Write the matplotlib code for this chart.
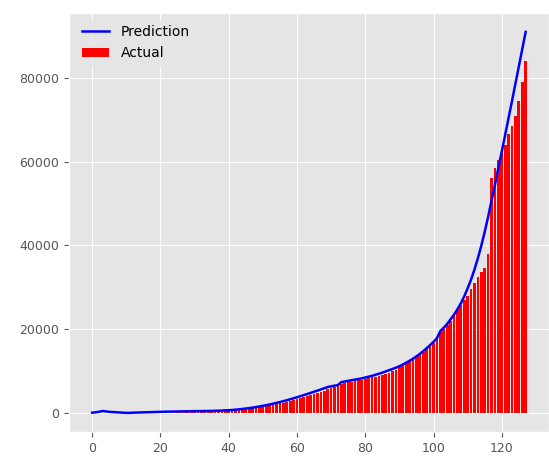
import matplotlib
matplotlib.use("Agg")
import matplotlib.pyplot as plt

plt.style.use("ggplot")

days = list(range(128))

actual = [0, 1, 1, 2, 3, 3, 3, 3, 3, 3,
          3, 3, 3, 3, 3, 3, 3, 5, 5, 6,
          10, 15, 20, 30, 40, 50, 60, 70, 80, 100,
          120, 140, 170, 200, 230, 260, 300, 340, 380, 430,
          480, 540, 600, 680, 760, 850, 950, 1050, 1180, 1300,
          1430, 1570, 1720, 1880, 2050, 2230, 2420, 2620, 2830, 3050,
          3280, 3500, 3740, 3980, 4230, 4480, 4740, 5000, 5270, 5540,
          5820, 6100, 6380, 6950, 7100, 7250, 7400, 7560, 7720, 7880,
          8050, 8230, 8420, 8620, 8830, 9060, 9300, 9560, 9840, 10140,
          11000, 11450, 11900, 12350, 12800, 13300, 13900, 14500, 15200, 15900,
          16600, 17500, 19300, 20000, 20900, 22000, 23200, 24500, 25800, 27000,
          28000, 29500, 31000, 32500, 33500, 34500, 38000, 56000, 58500, 60500,
          62000, 64000, 66500, 68500, 71000, 74500, 79000, 84000]

prediction = [0, 100, 200, 400, 300, 200, 150, 100, 50, 0,
              -50, -50, 0, 20, 50, 80, 100, 130, 150, 180,
              200, 220, 240, 260, 280, 300, 310, 320, 330, 340,
              350, 360, 370, 380, 400, 420, 440, 470, 500, 540,
              580, 640, 710, 790, 880, 980, 1090, 1210, 1340, 1480,
              1630, 1790, 1960, 2140, 2330, 2530, 2740, 2960, 3190, 3430,
              3680, 3930, 4190, 4450, 4720, 4990, 5270, 5550, 5840, 6130,
              6300, 6450, 6600, 7300, 7450, 7600, 7750, 7900, 8050, 8200,
              8400, 8600, 8800, 9050, 9300, 9550, 9850, 10150, 10450, 10750,
              11100, 11500, 11950, 12400, 12900, 13450, 14050, 14700, 15400, 16150,
              16900, 17800, 19500, 20300, 21200, 22300, 23400, 24700, 26100, 27800,
              29700, 31800, 34200, 36900, 39900, 43200, 46800, 50600, 54500, 58400,
              62400, 66400, 70400, 74500, 78600, 82700, 86800, 91000]

fig = plt.figure(figsize=(5.49, 4.59), dpi=100)
ax = fig.add_axes([0.1257, 0.059, 0.874, 0.913])

ax.plot(days, prediction, color="blue", linewidth=1.8, label="Prediction")
ax.bar(days, actual, color="red", label="Actual")

ax.tick_params(labelsize=9)
ax.legend(loc="upper left", fontsize=10, facecolor="#E5E5E5", edgecolor="#E5E5E5")

fig.savefig("out.png", dpi=100)
